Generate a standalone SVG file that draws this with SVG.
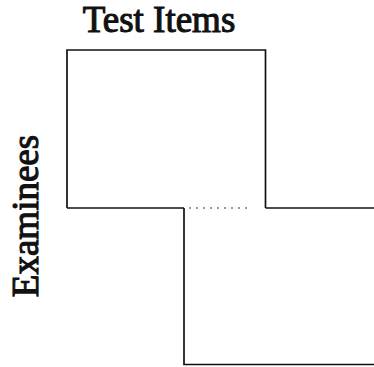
<svg xmlns="http://www.w3.org/2000/svg" width="374" height="367" viewBox="0 0 374 367">
<style>
.ln{fill:none;stroke:#111;stroke-width:1.7;}
.dot{fill:none;stroke:#333;stroke-width:1.2;stroke-dasharray:2 5;}
.lbl{font-family:"Liberation Serif","Times New Roman",serif;font-size:37px;fill:#111;stroke:#111;stroke-width:1.1;}
</style>
<rect width="374" height="367" fill="#fff"/>
<g id="label-items"><text class="lbl" x="159" y="32" text-anchor="middle">Test Items</text></g>
<g id="label-examinees"><text class="lbl" transform="translate(38,216) rotate(-90)" text-anchor="middle">Examinees</text></g>
<g id="block-top"><path class="ln" d="M67,208 V50 H265.5 V208"/></g>
<g id="block-bottom"><path class="ln" d="M184,208 V364.5 H374"/></g>
<g id="connectors">
<path class="ln" d="M67,208 H184"/>
<path class="dot" d="M189,208 H248"/>
<path class="ln" d="M265.5,208 H374"/>
</g>
</svg>
